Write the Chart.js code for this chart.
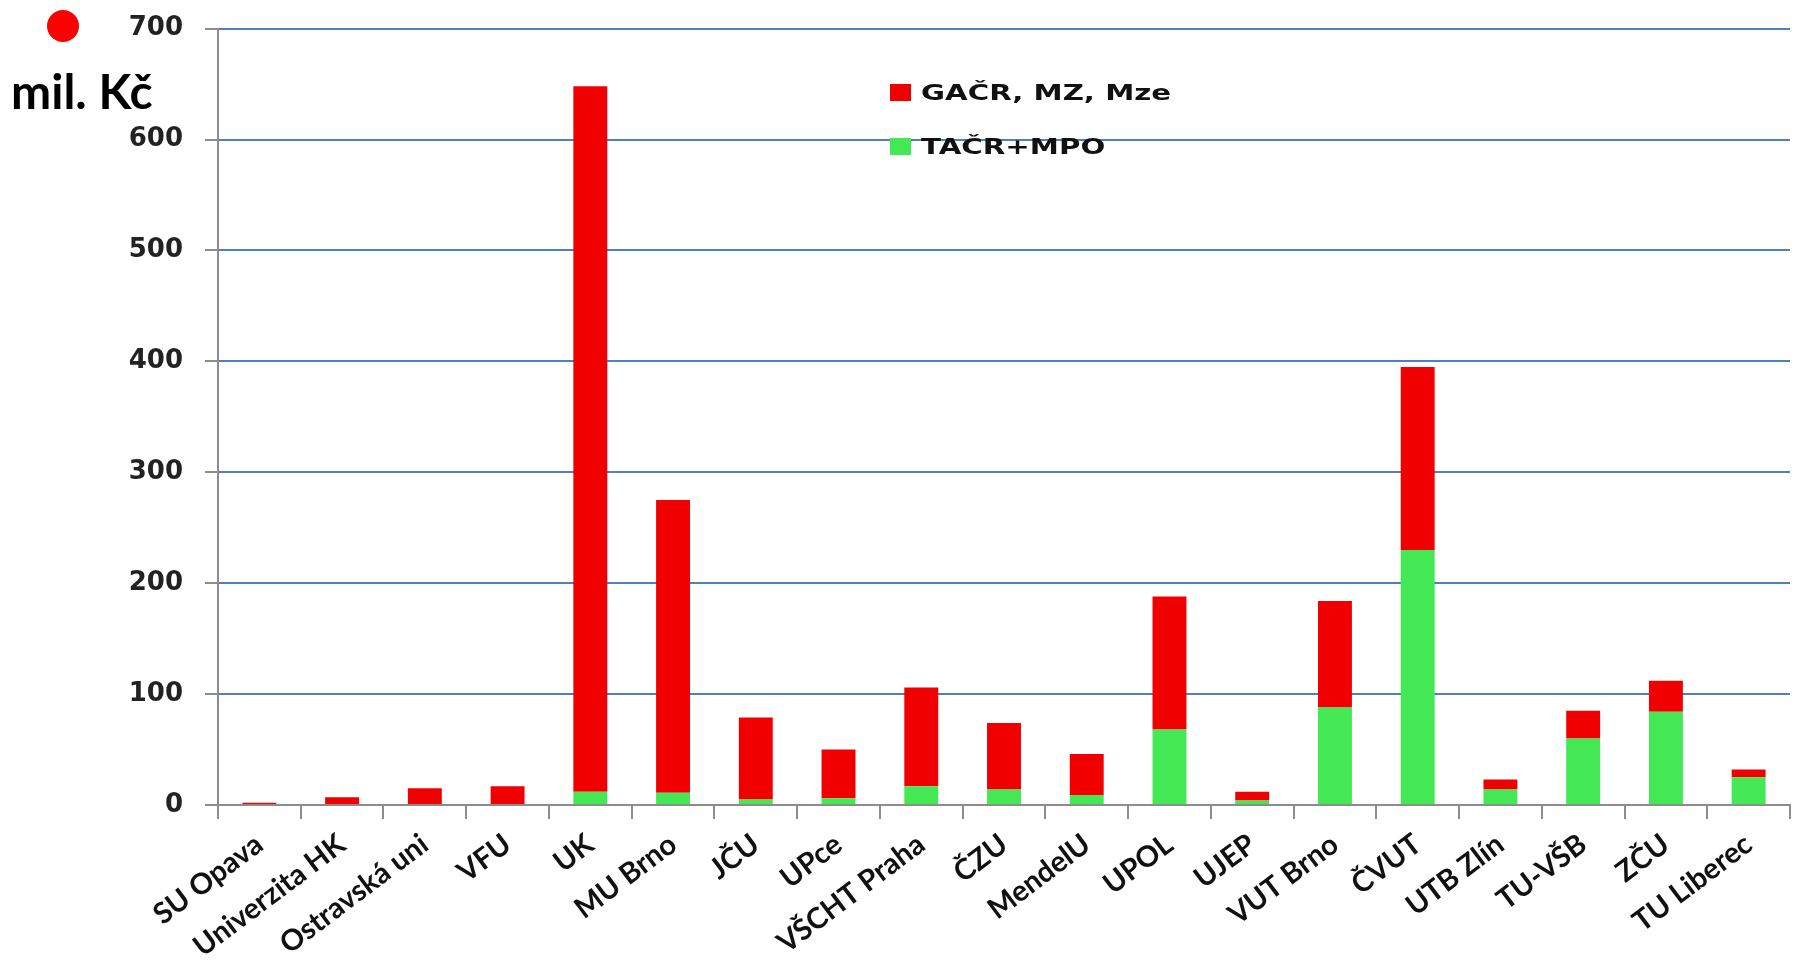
<!DOCTYPE html>
<html>
<head>
<meta charset="utf-8">
<script src="https://cdn.jsdelivr.net/npm/chart.js@4.4.1/dist/chart.umd.min.js"></script>
<style>
  html, body { margin: 0; padding: 0; background: #ffffff; }
  #wrap { position: relative; width: 1796px; height: 965px; overflow: hidden; }
  #chart { position: absolute; left: 0; top: -9px; }
  .dot { position: absolute; left: 47px; top: 10px; width: 32px; height: 32px; border-radius: 50%; background: #ff0000; }
  .unit { position: absolute; left: 11px; top: 67px; font-family: Lato, "Open Sans", sans-serif; font-weight: 700; font-size: 48px; color: #000; line-height: 1; }
  .leg { position: absolute; left: 890px; font-family: "DejaVu Sans", Verdana, sans-serif; font-weight: 700; font-size: 22px; color: #111; white-space: nowrap; }
  .leg .sw { display: inline-block; width: 21px; height: 17px; vertical-align: middle; margin-right: 10px; }
  .leg .tx { display: inline-block; transform: scaleX(1.33); transform-origin: left center; vertical-align: middle; }
</style>
</head>
<body>
<div id="wrap">
  <canvas id="chart" width="1796" height="974"></canvas>
  <div class="dot"></div>
  <div class="unit">mil. Kč</div>
  <div class="leg" style="top:78px"><span class="sw" style="background:#ee0000"></span><span class="tx">GAČR, MZ, Mze</span></div>
  <div class="leg" style="top:132px"><span class="sw" style="background:#44e855"></span><span class="tx">TAČR+MPO</span></div>
</div>
<script>
const categories = ["SU Opava", "Univerzita HK", "Ostravská uni", "VFU", "UK", "MU Brno", "JČU", "UPce", "VŠCHT Praha", "ČZU", "MendelU", "UPOL", "UJEP", "VUT Brno", "ČVUT", "UTB Zlín", "TU-VŠB", "ZČU", "TU Liberec"];
const tacrMpo = [0, 0, 0, 0, 12, 11, 5, 6, 17, 14, 9, 68, 4, 88, 230, 14, 60, 84, 25];
const gacrMzMze = [2, 7, 15, 17, 636, 264, 74, 44, 89, 60, 37, 120, 8, 96, 165, 9, 25, 28, 7];
const yTicks = [0, 100, 200, 300, 400, 500, 600, 700];
const seriesNames = ["GAČR, MZ, Mze", "TAČR+MPO"];

const ctx = document.getElementById('chart').getContext('2d');
new Chart(ctx, {
  type: 'bar',
  data: {
    labels: categories,
    datasets: [
      { label: seriesNames[1], data: tacrMpo, backgroundColor: '#44e855', borderWidth: 0, barPercentage: 0.41, categoryPercentage: 1.0 },
      { label: seriesNames[0], data: gacrMzMze, backgroundColor: '#f00000', borderWidth: 0, barPercentage: 0.41, categoryPercentage: 1.0 }
    ]
  },
  options: {
    responsive: false,
    animation: false,
    devicePixelRatio: 1,
    layout: { padding: { top: 0, right: 6, left: 0, bottom: 0 } },
    plugins: { legend: { display: false }, tooltip: { enabled: false } },
    scales: {
      x: {
        stacked: true,
        afterFit: (s) => { s.height = 160; },
        border: { display: true, color: '#8c8c8c', width: 2 },
        grid: { display: true, offset: true, drawOnChartArea: false, drawTicks: true, tickLength: 14, color: '#8c8c8c', lineWidth: 2 },
        ticks: {
          autoSkip: false, minRotation: 37, maxRotation: 37, padding: 8,
          color: '#111',
          font: { family: 'Lato, "Open Sans", sans-serif', weight: 'bold', size: 29 }
        }
      },
      y: {
        stacked: true,
        min: yTicks[0], max: yTicks[yTicks.length - 1],
        afterFit: (s) => { s.width = 218; },
        afterBuildTicks: (s) => { s.ticks = yTicks.map(v => ({ value: v })); },
        border: { display: true, color: '#8c8c8c', width: 2 },
        grid: { color: '#4f7fbc', lineWidth: 2, tickLength: 13, tickColor: '#8c8c8c', drawTicks: true },
        ticks: {
          padding: 22,
          color: '#222',
          font: { family: '"DejaVu Sans", Verdana, sans-serif', weight: 'bold', size: 26 }
        }
      }
    }
  }
});
</script>
</body>
</html>
